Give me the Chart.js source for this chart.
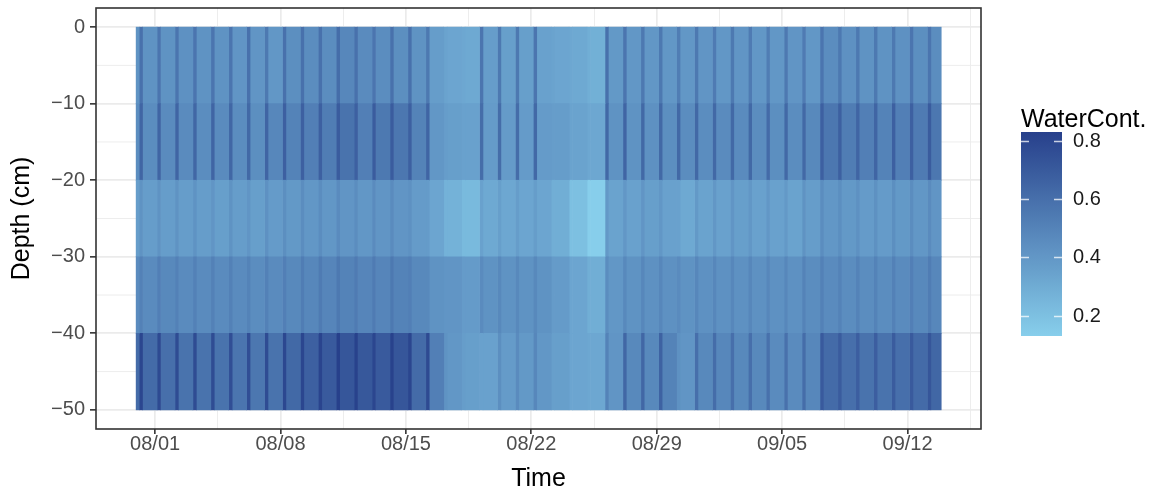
<!DOCTYPE html>
<html lang="en">
<head>
  <meta charset="utf-8" />
  <title>Soil water content by depth</title>
  <script src="https://cdn.jsdelivr.net/npm/chart.js@4.4.1/dist/chart.umd.min.js"></script>
  <style>
    * {
      margin: 0;
      padding: 0;
      box-sizing: border-box;
    }

    body {
      background: #ffffff;
      overflow: hidden;
    }

    #wrap {
      position: relative;
      width: 1157px;
      height: 493px;
    }
  </style>
</head>
<body>
  <div id="wrap"><canvas id="chart"></canvas></div>

  <script>
    // one entry per day, 07/31 .. 09/13 (x axis is in days since 08/01)
    const days = [
      "07/31", "08/01", "08/02", "08/03", "08/04", "08/05", "08/06", "08/07", "08/08",
      "08/09", "08/10", "08/11", "08/12", "08/13", "08/14", "08/15", "08/16", "08/17",
      "08/18", "08/19", "08/20", "08/21", "08/22", "08/23", "08/24", "08/25", "08/26",
      "08/27", "08/28", "08/29", "08/30", "08/31", "09/01", "09/02", "09/03", "09/04",
      "09/05", "09/06", "09/07", "09/08", "09/09", "09/10", "09/11", "09/12", "09/13",
    ];
    const firstReading = -1.06; // 07/30 late evening
    const lastReading = 43.88;
    const pulseStart = 0.11; // daily wetting pulse, fraction of day
    const pulseEnd = 0.30;

    // layer tops (cm) and layer thickness
    const layerTops = [0, -10, -20, -30, -40];
    const layerThickness = 10;

    // readings before the first pulse
    const leadValues = [0.42, 0.45, 0.37, 0.46, 0.62];

    // water content, 0..-10 cm
    const wc0Pulse = [0.59, 0.57, 0.57, 0.57, 0.57, 0.57, 0.59, 0.55, 0.59, 0.59, 0.59, 0.61, 0.59, 0.57, 0.59,
      0.59, 0.55, 0.34, 0.32, 0.57, 0.55, 0.55, 0.57, 0.34, 0.32, 0.29, 0.59, 0.57, 0.55, 0.55,
      0.53, 0.55, 0.54, 0.55, 0.54, 0.53, 0.55, 0.54, 0.57, 0.55, 0.55, 0.55, 0.55, 0.57, 0.57];
    const wc0Base = [0.42, 0.42, 0.43, 0.42, 0.42, 0.41, 0.41, 0.40, 0.44, 0.45, 0.45, 0.48, 0.46, 0.45, 0.44,
      0.42, 0.37, 0.33, 0.31, 0.37, 0.36, 0.36, 0.35, 0.33, 0.31, 0.28, 0.39, 0.40, 0.40, 0.40,
      0.40, 0.41, 0.40, 0.41, 0.40, 0.40, 0.41, 0.40, 0.45, 0.43, 0.42, 0.42, 0.43, 0.44, 0.45];

    // -10..-20 cm
    const wc10Pulse = [0.65, 0.65, 0.65, 0.64, 0.65, 0.64, 0.63, 0.65, 0.67, 0.67, 0.67, 0.69, 0.67, 0.69, 0.69,
      0.67, 0.65, 0.37, 0.35, 0.61, 0.61, 0.61, 0.63, 0.37, 0.34, 0.32, 0.63, 0.65, 0.63, 0.63,
      0.63, 0.63, 0.63, 0.63, 0.63, 0.62, 0.63, 0.63, 0.67, 0.67, 0.65, 0.65, 0.67, 0.67, 0.69];
    const wc10Base = [0.45, 0.46, 0.46, 0.45, 0.46, 0.45, 0.44, 0.48, 0.50, 0.52, 0.53, 0.58, 0.52, 0.55, 0.56,
      0.50, 0.40, 0.36, 0.35, 0.38, 0.38, 0.38, 0.38, 0.37, 0.34, 0.32, 0.42, 0.42, 0.43, 0.44,
      0.45, 0.45, 0.46, 0.46, 0.45, 0.44, 0.45, 0.47, 0.56, 0.53, 0.52, 0.50, 0.52, 0.54, 0.56];

    // -20..-30 cm
    const wc20Pulse = [0.42, 0.42, 0.42, 0.42, 0.41, 0.42, 0.41, 0.43, 0.44, 0.45, 0.45, 0.46, 0.45, 0.46, 0.46,
      0.43, 0.38, 0.27, 0.23, 0.35, 0.36, 0.37, 0.37, 0.29, 0.20, 0.13, 0.39, 0.40, 0.41, 0.40,
      0.35, 0.39, 0.40, 0.41, 0.40, 0.40, 0.39, 0.42, 0.45, 0.44, 0.43, 0.43, 0.44, 0.45, 0.46];
    const wc20Base = [0.37, 0.37, 0.37, 0.37, 0.36, 0.37, 0.36, 0.38, 0.39, 0.40, 0.40, 0.41, 0.40, 0.41, 0.41,
      0.38, 0.33, 0.27, 0.23, 0.31, 0.32, 0.33, 0.33, 0.29, 0.20, 0.13, 0.34, 0.35, 0.36, 0.35,
      0.31, 0.34, 0.35, 0.36, 0.35, 0.35, 0.34, 0.37, 0.40, 0.39, 0.38, 0.38, 0.39, 0.40, 0.41];

    // -30..-40 cm
    const wc30Pulse = [0.51, 0.52, 0.51, 0.51, 0.51, 0.51, 0.50, 0.51, 0.52, 0.53, 0.54, 0.55, 0.54, 0.54, 0.55,
      0.52, 0.47, 0.41, 0.38, 0.46, 0.47, 0.47, 0.47, 0.38, 0.33, 0.29, 0.45, 0.47, 0.48, 0.48,
      0.46, 0.48, 0.48, 0.48, 0.48, 0.48, 0.48, 0.50, 0.51, 0.50, 0.50, 0.50, 0.51, 0.52, 0.53];
    const wc30Base = [0.46, 0.47, 0.46, 0.46, 0.46, 0.46, 0.45, 0.46, 0.47, 0.48, 0.49, 0.50, 0.49, 0.49, 0.50,
      0.47, 0.42, 0.41, 0.38, 0.42, 0.42, 0.42, 0.42, 0.38, 0.33, 0.29, 0.40, 0.42, 0.43, 0.43,
      0.42, 0.43, 0.43, 0.43, 0.43, 0.43, 0.43, 0.45, 0.46, 0.45, 0.45, 0.45, 0.46, 0.47, 0.48];

    // -40..-50 cm
    const wc40Pulse = [0.80, 0.78, 0.77, 0.77, 0.77, 0.76, 0.76, 0.77, 0.79, 0.80, 0.81, 0.83, 0.82, 0.80, 0.82,
      0.80, 0.78, 0.42, 0.37, 0.35, 0.44, 0.46, 0.48, 0.36, 0.33, 0.32, 0.50, 0.64, 0.64, 0.66,
      0.43, 0.60, 0.61, 0.60, 0.60, 0.59, 0.59, 0.61, 0.70, 0.69, 0.68, 0.68, 0.69, 0.70, 0.72];
    const wc40Base = [0.62, 0.60, 0.58, 0.58, 0.58, 0.57, 0.56, 0.58, 0.63, 0.67, 0.70, 0.72, 0.71, 0.70, 0.72,
      0.62, 0.52, 0.40, 0.36, 0.35, 0.38, 0.39, 0.40, 0.36, 0.33, 0.32, 0.41, 0.47, 0.47, 0.50,
      0.41, 0.47, 0.48, 0.47, 0.47, 0.46, 0.46, 0.48, 0.62, 0.60, 0.58, 0.58, 0.60, 0.62, 0.64];

    const pulseValues = [wc0Pulse, wc10Pulse, wc20Pulse, wc30Pulse, wc40Pulse];
    const baseValues = [wc0Base, wc10Base, wc20Base, wc30Base, wc40Base];

    // axis ticks
    const timeTicks = [0, 7, 14, 21, 28, 35, 42];
    const timeTickLabels = ["08/01", "08/08", "08/15", "08/22", "08/29", "09/05", "09/12"];
    const depthTicks = [0, -10, -20, -30, -40, -50];
    const depthMinor = [-5, -15, -25, -35, -45];
    const legendTicks = [0.2, 0.4, 0.6, 0.8];

    // colour scale, skyblue -> royalblue4 over the data range
    const allValues = leadValues.concat(...pulseValues, ...baseValues);
    const lo = Math.min(...allValues);
    const hi = Math.max(...allValues);
    const lowRgb = [135, 206, 235];
    const highRgb = [39, 64, 139];

    function fillColour(v) {
      const t = Math.max(0, Math.min(1, (v - lo) / (hi - lo)));
      const c = lowRgb.map((a, k) => Math.round(a + (highRgb[k] - a) * t));
      return `rgb(${c[0]},${c[1]},${c[2]})`;
    }

    const layerCentres = layerTops.map((top) => top - layerThickness / 2);

    // one dataset per time segment, each holding one bar per layer
    const segments = [];
    segments.push({ from: firstReading, to: -1 + pulseStart, values: leadValues });
    days.forEach((_, i) => {
      const d = i - 1;
      const next = Math.min(d + 1 + pulseStart, lastReading);
      segments.push({ from: d + pulseStart, to: d + pulseEnd, values: pulseValues.map((a) => a[i]) });
      segments.push({ from: d + pulseEnd, to: next, values: baseValues.map((a) => a[i]) });
    });

    const datasets = segments.map((s) => ({
      data: layerCentres.map((c) => ({ x: [s.from, s.to], y: c })),
      backgroundColor: s.values.map(fillColour),
      borderWidth: 0,
      barPercentage: 1,
      categoryPercentage: 1,
      grouped: false,
    }));

    const font = "'Liberation Sans', Arial, sans-serif";
    const isMajorTime = (c) => !!c.tick && timeTicks.includes(c.tick.value);

    // minor depth grid lines (kept off the y scale so bar height = layer thickness)
    const minorDepthGrid = {
      id: "minorDepthGrid",
      beforeDatasetsDraw(chart) {
        const { ctx, chartArea: a, scales } = chart;
        ctx.save();
        ctx.strokeStyle = "#EBEBEB";
        ctx.lineWidth = 0.9;
        depthMinor.forEach((v) => {
          const y = scales.y.getPixelForValue(v);
          ctx.beginPath();
          ctx.moveTo(a.left, y);
          ctx.lineTo(a.right, y);
          ctx.stroke();
        });
        ctx.restore();
      },
    };

    // panel border and colour bar legend
    const panelAndLegend = {
      id: "panelAndLegend",
      afterDraw(chart) {
        const { ctx, chartArea: a } = chart;
        ctx.save();
        ctx.strokeStyle = "#333333";
        ctx.lineWidth = 1.6;
        ctx.strokeRect(a.left, a.top, a.right - a.left, a.bottom - a.top);

        const barLeft = 1021, barTop = 132, barWidth = 41, barHeight = 204;
        const yFor = (v) => barTop + (hi - v) / (hi - lo) * barHeight;
        const grad = ctx.createLinearGradient(0, barTop + barHeight, 0, barTop);
        for (let k = 0; k <= 20; k++) {
          grad.addColorStop(k / 20, fillColour(lo + (hi - lo) * k / 20));
        }
        ctx.fillStyle = grad;
        ctx.fillRect(barLeft, barTop, barWidth, barHeight);

        ctx.strokeStyle = "rgba(255,255,255,0.75)";
        ctx.lineWidth = 1.5;
        ctx.fillStyle = "#1a1a1a";
        ctx.font = `20px ${font}`;
        ctx.textBaseline = "middle";
        ctx.textAlign = "left";
        legendTicks.forEach((v) => {
          const y = Math.round(yFor(v)) + 0.5;
          ctx.beginPath();
          ctx.moveTo(barLeft, y);
          ctx.lineTo(barLeft + 8, y);
          ctx.moveTo(barLeft + barWidth - 8, y);
          ctx.lineTo(barLeft + barWidth, y);
          ctx.stroke();
          ctx.fillText(v.toFixed(1), barLeft + 52, y);
        });

        ctx.fillStyle = "#000000";
        ctx.font = `25px ${font}`;
        ctx.textBaseline = "alphabetic";
        ctx.fillText("WaterCont.", barLeft, 127);
        ctx.restore();
      },
    };

    new Chart(document.getElementById("chart"), {
      type: "bar",
      data: { datasets },
      plugins: [minorDepthGrid, panelAndLegend],
      options: {
        indexAxis: "y",
        responsive: true,
        maintainAspectRatio: false,
        animation: false,
        events: [],
        layout: { padding: { top: 8, right: 176, left: 0, bottom: 0 } },
        plugins: { legend: { display: false }, tooltip: { enabled: false } },
        scales: {
          x: {
            type: "linear",
            min: -3.3,
            max: 46.1,
            afterBuildTicks: (scale) => {
              const t = [];
              for (let v = 0; v <= scale.max; v += 3.5) t.push({ value: v });
              scale.ticks = t;
            },
            afterFit: (scale) => {
              scale.height = 64;
              scale.paddingLeft = 0;
              scale.paddingRight = 0;
            },
            grid: {
              color: "#EBEBEB",
              lineWidth: (c) => (isMajorTime(c) ? 1.7 : 0.9),
              tickColor: (c) => (isMajorTime(c) ? "#333333" : "rgba(0,0,0,0)"),
              tickWidth: 1.6,
              tickLength: 5,
            },
            border: { display: false },
            ticks: {
              autoSkip: false,
              maxRotation: 0,
              padding: -2,
              color: "#4D4D4D",
              font: { family: font, size: 20 },
              callback: (v) => (timeTicks.includes(v) ? timeTickLabels[timeTicks.indexOf(v)] : ""),
            },
            title: {
              display: true,
              text: "Time",
              color: "#000000",
              font: { family: font, size: 25, lineHeight: 1.1 },
              padding: { top: 0, bottom: 0 },
            },
          },
          y: {
            type: "linear",
            min: -52.5,
            max: 2.5,
            offset: false,
            afterBuildTicks: (scale) => {
              scale.ticks = depthTicks.map((v) => ({ value: v }));
            },
            afterFit: (scale) => {
              scale.width = 96;
              scale.paddingTop = 0;
              scale.paddingBottom = 0;
            },
            grid: {
              offset: false,
              color: "#EBEBEB",
              lineWidth: 1.7,
              tickColor: "#333333",
              tickWidth: 1.6,
              tickLength: 6,
            },
            border: { display: false },
            ticks: {
              autoSkip: false,
              padding: 5,
              color: "#4D4D4D",
              font: { family: font, size: 20 },
              callback: (v) => (v < 0 ? "\u2212" + Math.abs(v) : String(v)),
            },
            title: {
              display: true,
              text: "Depth (cm)",
              color: "#000000",
              font: { family: font, size: 25, lineHeight: 1.2 },
              padding: { top: 7, bottom: 0 },
            },
          },
        },
      },
    });
  </script>
</body>
</html>
